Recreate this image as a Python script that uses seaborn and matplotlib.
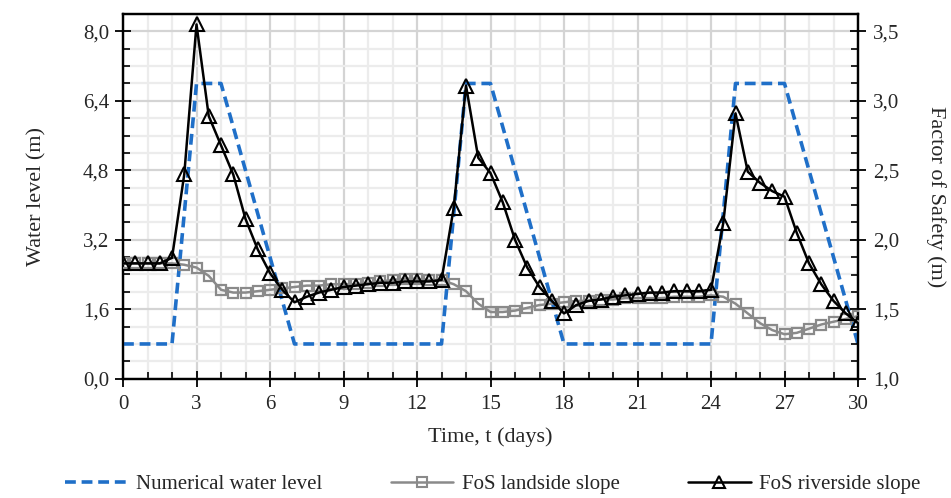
import numpy as np
import pandas as pd
import matplotlib
matplotlib.use("Agg")
import matplotlib.pyplot as plt
from matplotlib.ticker import MultipleLocator, FuncFormatter
from matplotlib.lines import Line2D
import seaborn as sns

# ---------------- data ----------------
wl_time = [0, 2, 3, 4, 7, 13, 14, 15, 18, 24, 25, 27, 30]
wl_level = [0.8, 0.8, 6.8, 6.8, 0.8, 0.8, 6.8, 6.8, 0.8, 0.8, 6.8, 6.8, 0.8]

fos_time = [i * 0.5 for i in range(61)]
fos_landside = [1.83, 1.83, 1.83, 1.83, 1.83, 1.82, 1.80, 1.74, 1.64, 1.62,
                1.62, 1.63, 1.64, 1.65, 1.66, 1.67, 1.67, 1.68, 1.68, 1.68,
                1.69, 1.70, 1.71, 1.72, 1.72, 1.71, 1.71, 1.68, 1.63, 1.54,
                1.48, 1.48, 1.49, 1.51, 1.53, 1.54, 1.55, 1.56, 1.56, 1.57,
                1.57, 1.58, 1.58, 1.58, 1.58, 1.59, 1.59, 1.59, 1.60, 1.59,
                1.54, 1.47, 1.40, 1.35, 1.32, 1.33, 1.36, 1.39, 1.41, 1.43,
                1.45]
fos_riverside = [1.83, 1.83, 1.83, 1.83, 1.87, 2.47, 3.55, 2.89, 2.68, 2.47,
                 2.15, 1.93, 1.76, 1.64, 1.55, 1.59, 1.62, 1.64, 1.66, 1.67,
                 1.68, 1.69, 1.69, 1.70, 1.70, 1.70, 1.71, 2.23, 3.11, 2.59,
                 2.48, 2.27, 2.00, 1.80, 1.66, 1.56, 1.47, 1.53, 1.56, 1.57,
                 1.59, 1.60, 1.61, 1.62, 1.62, 1.63, 1.63, 1.63, 1.64, 2.12,
                 2.91, 2.49, 2.41, 2.35, 2.31, 2.05, 1.83, 1.68, 1.56, 1.47,
                 1.40]

x_ticks = [0, 3, 6, 9, 12, 15, 18, 21, 24, 27, 30]
left_ticks = [0.0, 1.6, 3.2, 4.8, 6.4, 8.0]
right_ticks = [1.0, 1.5, 2.0, 2.5, 3.0, 3.5]

labels = ["Numerical water level", "FoS landside slope", "FoS riverside slope"]
c_blue = "#1f6fc8"
c_gray = "#8a8a8a"
c_black = "#000000"
dash = (0, (3.0, 1.6))

# ---------------- figure ----------------
sns.set_theme(style="white")
plt.rcParams["font.family"] = ["Liberation Serif", "DejaVu Serif"]

fig = plt.figure(figsize=(9.51, 4.98), dpi=100)
ax = fig.add_axes([123 / 951, 1 - 378.7 / 498, (858 - 123) / 951, (378.7 - 14) / 498])

df_wl = pd.DataFrame({"t": wl_time, "wl": wl_level})
df_fos = pd.DataFrame({"t": fos_time, "land": fos_landside, "river": fos_riverside})

sns.lineplot(data=df_wl, x="t", y="wl", ax=ax, color=c_blue, lw=2.6,
             linestyle=dash, zorder=3)

ax.set_xlim(0, 30)
ax.set_ylim(0, 8.4)
ax.set_xticks(x_ticks)
ax.xaxis.set_minor_locator(MultipleLocator(1))
ax.set_yticks(left_ticks)
ax.yaxis.set_minor_locator(MultipleLocator(0.4))
ax.yaxis.set_major_formatter(FuncFormatter(lambda v, p: f"{v:.1f}".replace(".", ",")))
ax.grid(which="major", color="#d4d4d4", lw=1.6, zorder=0)
ax.grid(which="minor", color="#ececec", lw=1.6, zorder=0)
ax.set_axisbelow(True)

ax2 = ax.twinx()
sns.lineplot(data=df_fos, x="t", y="land", ax=ax2, color=c_gray, lw=1.8,
             marker="s", markersize=7.5, markerfacecolor="none",
             markeredgecolor=c_gray, markeredgewidth=1.6, zorder=4)
sns.lineplot(data=df_fos, x="t", y="river", ax=ax2, color=c_black, lw=1.8,
             marker="^", markersize=9.5, markerfacecolor="none",
             markeredgecolor=c_black, markeredgewidth=1.5, zorder=5)
ax2.set_ylim(1.0, 1.0 + 8.4 / 8 * 2.5)
ax2.set_yticks(right_ticks)
ax2.yaxis.set_minor_locator(MultipleLocator(0.125))
ax2.yaxis.set_major_formatter(FuncFormatter(lambda v, p: f"{v:.1f}".replace(".", ",")))
ax2.grid(False)

for a in (ax, ax2):
    for s in a.spines.values():
        s.set_color("black")
        s.set_linewidth(1.6)

fs = 15
ax.tick_params(axis="y", which="major", direction="inout", length=12, width=1.3,
               color="black", labelsize=fs, left=True, pad=4)
ax.tick_params(axis="y", which="minor", direction="in", length=5, width=1.2,
               color="black", left=True)
ax.tick_params(axis="x", which="major", direction="inout", length=12, width=1.3,
               color="black", labelsize=fs, bottom=True, pad=6)
ax.tick_params(axis="x", which="minor", direction="in", length=5, width=1.2,
               color="black", bottom=True)
ax2.tick_params(axis="y", which="major", direction="inout", length=12, width=1.3,
                color="black", labelsize=fs, right=True, pad=5)
ax2.tick_params(axis="y", which="minor", direction="in", length=5, width=1.2,
                color="black", right=True)

ax.set_xlabel("Time, t (days)", fontsize=fs + 1, labelpad=9)
ax.set_ylabel("Water level (m)", fontsize=fs + 1, labelpad=26)
ax2.set_ylabel("Factor of Safety (m)", fontsize=fs + 1, rotation=270, labelpad=33)

handles = [
    Line2D([], [], color=c_blue, lw=2.6, linestyle=dash),
    Line2D([], [], color=c_gray, lw=1.8, marker="s", markersize=6.5,
           markerfacecolor="none", markeredgecolor=c_gray, markeredgewidth=1.5),
    Line2D([], [], color=c_black, lw=1.8, marker="^", markersize=8,
           markerfacecolor="none", markeredgecolor=c_black, markeredgewidth=1.5),
]
fig.legend(handles, labels, loc="center", bbox_to_anchor=(0.518, 0.027), ncol=3,
           frameon=False, fontsize=fs, handlelength=3.0, columnspacing=3.3,
           handletextpad=0.4)

fig.savefig("out.png", dpi=100)
